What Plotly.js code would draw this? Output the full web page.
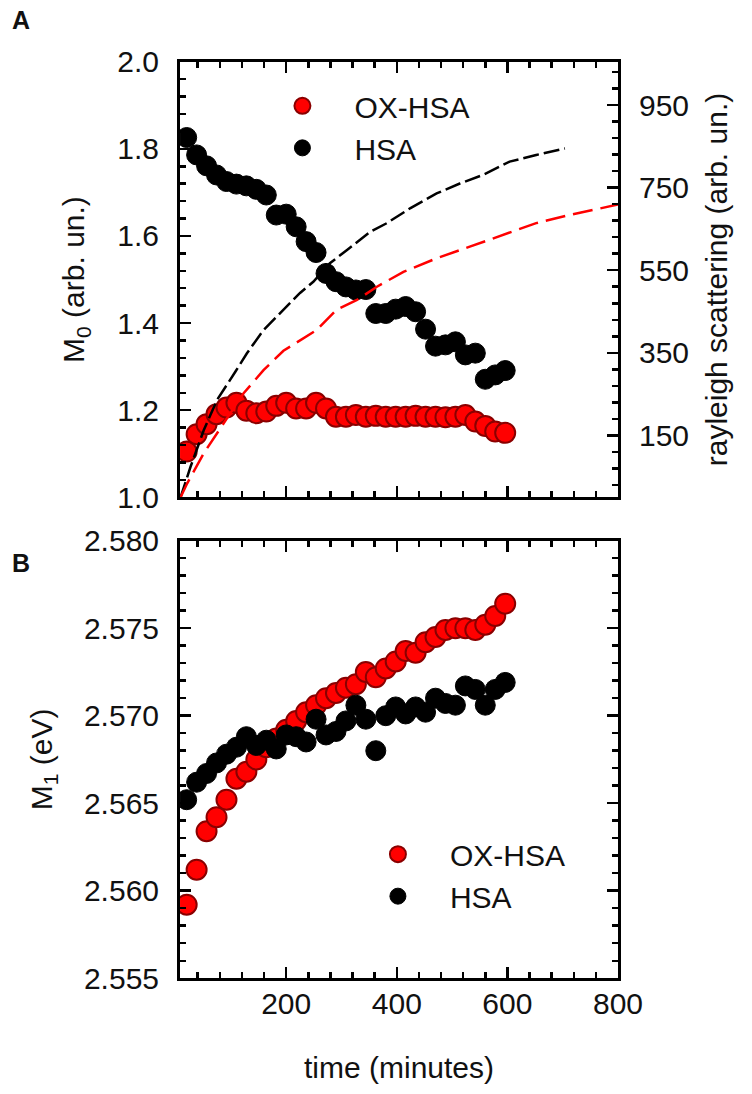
<!DOCTYPE html>
<html>
<head>
<meta charset="utf-8">
<script src="https://cdn.plot.ly/plotly-3.0.1.min.js"></script>
<style>
  body { margin: 0; background: #fff; }
  #chart { width: 752px; height: 1094px; }
</style>
</head>
<body>
<div id="chart"></div>
<script>
// sampling times (minutes) of the moment analysis
var timeMin = [20, 38, 56, 74, 92, 110, 128, 146, 164, 182, 200, 218, 236, 254, 272, 290, 308,
               326, 344, 362, 380, 398, 416, 434, 452, 470, 488, 506, 524, 542, 560, 578, 596];

// panel A: zeroth moment M0 (arb. un.)
var m0Ox = [1.105, 1.145, 1.168, 1.191, 1.206, 1.217, 1.199, 1.193, 1.197, 1.210, 1.217,
            1.204, 1.204, 1.217, 1.204, 1.185, 1.185, 1.189, 1.185, 1.187, 1.185, 1.185,
            1.185, 1.187, 1.185, 1.185, 1.184, 1.185, 1.189, 1.174, 1.164, 1.151, 1.148];
var m0Hsa = [1.826, 1.786, 1.761, 1.740, 1.725, 1.719, 1.715, 1.707, 1.694, 1.648, 1.650,
             1.621, 1.587, 1.562, 1.514, 1.495, 1.483, 1.476, 1.477, 1.422, 1.422, 1.432,
             1.438, 1.426, 1.386, 1.347, 1.350, 1.357, 1.327, 1.331, 1.271, 1.281, 1.291];

// panel A: rayleigh scattering (right axis)
var rayTimeHsa = [9, 27, 51, 75, 108, 129, 159, 189, 225, 249, 279, 310, 352, 382, 424, 472, 514, 556, 604, 652, 704];
var rayHsa = [0, 74, 163, 236, 304, 349, 405, 445, 495, 522, 567, 599, 643, 664, 700, 736, 760, 781, 813, 829, 845];
var rayTimeOx = [9, 21, 51, 87, 123, 159, 195, 255, 291, 328, 364, 412, 472, 532, 592, 652, 713, 767, 800];
var rayOx = [0, 34, 107, 179, 252, 308, 355, 405, 454, 478, 510, 546, 579, 607, 635, 664, 684, 700, 709];

// panel B: first moment M1 (eV)
var m1Ox = [2.5592, 2.5612, 2.5634, 2.5642, 2.5652, 2.5664, 2.5668, 2.5675, 2.5682, 2.5687,
            2.5692, 2.5697, 2.5702, 2.5706, 2.5710, 2.5713, 2.5716, 2.5718, 2.5725, 2.5722,
            2.5727, 2.5731, 2.5737, 2.5736, 2.5742, 2.5745, 2.5749, 2.5750, 2.5750, 2.5749,
            2.5752, 2.5757, 2.5764];
var m1Hsa = [2.5652, 2.5662, 2.5667, 2.5673, 2.5678, 2.5682, 2.5688, 2.5683, 2.5686, 2.5681,
             2.5689, 2.5688, 2.5685, 2.5698, 2.5689, 2.5691, 2.5697, 2.5706, 2.5698, 2.5680,
             2.5700, 2.5705, 2.5701, 2.5705, 2.5702, 2.5710, 2.5707, 2.5706, 2.5717, 2.5715,
             2.5706, 2.5715, 2.5719];

var redMarker = {size: 20, color: '#ff0000', line: {color: '#8a0000', width: 2}};
var blackMarker = {size: 20, color: '#000000', line: {color: '#000000', width: 1}};

var data = [
  {x: timeMin, y: m0Ox, xaxis: 'x', yaxis: 'y', mode: 'markers', name: 'OX-HSA',
   marker: redMarker, legend: 'legend'},
  {x: timeMin, y: m0Hsa, xaxis: 'x', yaxis: 'y', mode: 'markers', name: 'HSA',
   marker: blackMarker, legend: 'legend'},
  {x: rayTimeHsa, y: rayHsa, xaxis: 'x', yaxis: 'y2', mode: 'lines', showlegend: false,
   line: {color: '#000000', width: 2.5, dash: '16px,5px'}},
  {x: rayTimeOx, y: rayOx, xaxis: 'x', yaxis: 'y2', mode: 'lines', showlegend: false,
   line: {color: '#ff0000', width: 2.5, dash: '20px,8px'}},
  {x: timeMin, y: m1Ox, xaxis: 'x2', yaxis: 'y3', mode: 'markers', name: 'OX-HSA',
   marker: redMarker, legend: 'legend2'},
  {x: timeMin, y: m1Hsa, xaxis: 'x2', yaxis: 'y3', mode: 'markers', name: 'HSA',
   marker: blackMarker, legend: 'legend2'}
];

var font = {family: 'Liberation Sans, Arial, sans-serif', size: 30, color: '#111'};

// shared look of every axis: thick black line, inside ticks
function axis(opts) {
  var base = {
    showline: true, linecolor: '#000', linewidth: 3,
    ticks: 'inside', ticklen: 11, tickwidth: 2.5, tickcolor: '#000',
    showgrid: false, zeroline: false, tickfont: font, ticklabelstandoff: 12,
    minor: {ticks: 'inside', ticklen: 6, tickwidth: 2.5, tickcolor: '#000', showgrid: false}
  };
  for (var k in opts) {
    if (k === 'minor') {
      for (var m in opts.minor) base.minor[m] = opts.minor[m];
    } else {
      base[k] = opts[k];
    }
  }
  return base;
}

var xDom = [0.2394, 0.8218];

var layout = {
  width: 752, height: 1094,
  margin: {l: 0, r: 0, t: 0, b: 0},
  paper_bgcolor: '#fff', plot_bgcolor: 'rgba(0,0,0,0)',
  font: font,
  xaxis: axis({domain: xDom, anchor: 'y', range: [8, 800], tick0: 0, dtick: 200,
               showticklabels: false, mirror: 'ticks', minor: {tick0: 0, dtick: 40}}),
  yaxis: axis({domain: [0.5454, 0.9436], anchor: 'x', range: [1, 2], dtick: 0.2,
               tickformat: '.1f', minor: {dtick: 0.04},
               title: {text: 'M<sub>0</sub> (arb. un.)', font: font, standoff: 24}}),
  yaxis2: axis({overlaying: 'y', side: 'right', anchor: 'x', range: [0, 1055],
                tick0: 150, dtick: 200, minor: {tick0: 150, dtick: 40},
                title: {text: 'rayleigh scattering (arb. un.)', font: font, standoff: 18}}),
  xaxis2: axis({domain: xDom, anchor: 'y3', range: [8, 800], tick0: 0, dtick: 200,
                mirror: 'ticks', minor: {tick0: 0, dtick: 40}, ticklabelstandoff: -3,
                title: {text: 'time (minutes)', font: font, standoff: 38}}),
  yaxis3: axis({domain: [0.1058, 0.5058], anchor: 'x2', range: [2.555, 2.58], dtick: 0.005,
                tickformat: '.3f', mirror: 'ticks', minor: {dtick: 0.001},
                title: {text: 'M<sub>1</sub> (eV)', font: font, standoff: 23}}),
  legend: {x: 0.333, y: 0.927, xanchor: 'left', yanchor: 'top', bgcolor: 'rgba(0,0,0,0)',
           itemwidth: 94, font: font, tracegroupgap: 0},
  legend2: {x: 0.46, y: 0.243, xanchor: 'left', yanchor: 'top', bgcolor: 'rgba(0,0,0,0)',
            itemwidth: 94, font: font, tracegroupgap: 0},
  annotations: [
    {text: '<b>A</b>', xref: 'paper', yref: 'paper', x: 0.028, y: 0.982,
     xanchor: 'center', yanchor: 'middle', showarrow: false,
     font: {family: font.family, size: 25, color: '#111'}},
    {text: '<b>B</b>', xref: 'paper', yref: 'paper', x: 0.028, y: 0.4854,
     xanchor: 'center', yanchor: 'middle', showarrow: false,
     font: {family: font.family, size: 25, color: '#111'}}
  ]
};

Plotly.newPlot('chart', data, layout, {displayModeBar: false, staticPlot: true});
</script>
</body>
</html>
